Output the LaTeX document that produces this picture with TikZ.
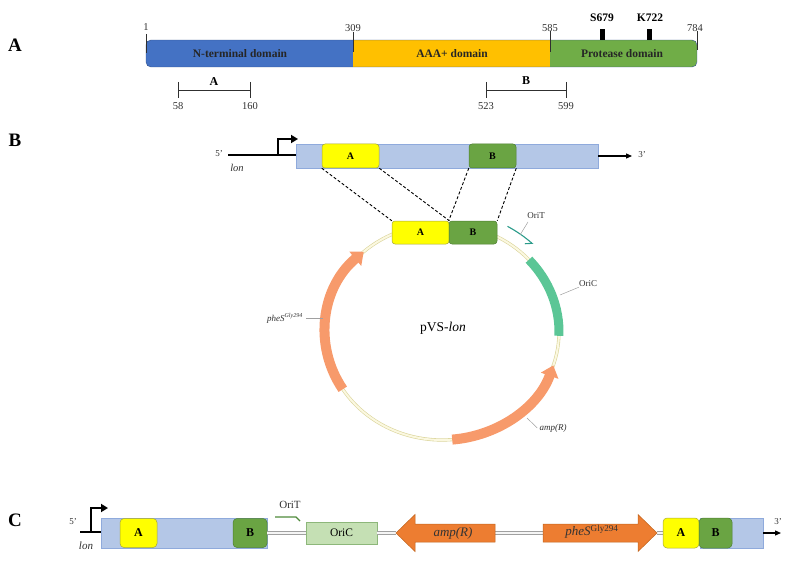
\documentclass[tikz,border=0pt]{standalone}
\usepackage{fontspec}
\setmainfont{Liberation Serif}
\usetikzlibrary{arrows.meta,calc}
\newcommand\fsz[1]{\fontsize{#1}{#1}\selectfont}
\definecolor{domblue}{HTML}{4472C4}
\definecolor{domorange}{HTML}{FFC000}
\definecolor{domgreen}{HTML}{70AD47}
\definecolor{genebar}{HTML}{B4C7E7}
\definecolor{genebarline}{HTML}{8FAADC}
\definecolor{boxyellow}{HTML}{FFFF00}
\definecolor{boxyellowline}{HTML}{A6A638}
\definecolor{boxgreen}{HTML}{6AA443}
\definecolor{boxgreenline}{HTML}{4E7F30}
\definecolor{salmon}{HTML}{F79A6B}
\definecolor{oricarc}{HTML}{5BC696}
\definecolor{oritteal}{HTML}{2A9B8A}
\definecolor{ringin}{HTML}{FBF8E0}
\definecolor{ringout}{HTML}{DAD49A}
\definecolor{ampor}{HTML}{ED7D31}
\definecolor{amporline}{HTML}{C0651F}
\definecolor{oricbox}{HTML}{C5E0B4}
\definecolor{oricboxline}{HTML}{8DB77A}
\definecolor{oritgreen}{HTML}{4E8A3A}
\definecolor{leader}{HTML}{A0A0A0}
\definecolor{inkgrey}{HTML}{303030}
\begin{document}
\begin{tikzpicture}[x=1pt,y=-1pt,
  panel/.style={font=\fsz{19}\bfseries, inner sep=0pt},
  domtxt/.style={font=\fsz{11.5}\bfseries, inner sep=0pt, text=black!85},
  num/.style={font=\fsz{10.5}, inner sep=0pt, text=inkgrey},
  site/.style={font=\fsz{11.5}\bfseries, inner sep=0pt},
  dombox/.style={rectangle, inner sep=0pt, minimum height=27pt},
  tickline/.style={draw=inkgrey, line width=0.8pt},
  rangebar/.style={draw=inkgrey, line width=0.8pt},
  barst/.style={rectangle, inner sep=0pt, fill=genebar, draw=genebarline, line width=0.5pt},
  ybox/.style={rectangle, rounded corners=3pt, inner sep=0pt, fill=boxyellow, draw=boxyellowline, line width=0.5pt, font=\fsz{10}\bfseries},
  gbox/.style={rectangle, rounded corners=3pt, inner sep=0pt, fill=boxgreen, draw=boxgreenline, line width=0.5pt, font=\fsz{10}\bfseries},
  small/.style={font=\fsz{9}, inner sep=0pt, text=inkgrey},
  smallit/.style={font=\fsz{9}\itshape, inner sep=0pt, text=inkgrey},
  leaderline/.style={draw=leader, line width=0.5pt},
  ring/.style={draw=ringout, line width=0.6pt, double=ringin, double distance=2pt},
  dashln/.style={draw=black, line width=0.9pt, dash pattern=on 3pt off 2pt},
  dbl/.style={draw=leader, line width=0.7pt, double=black!4, double distance=2.4pt},
  promoter/.style={draw=black, line width=2pt, -{Triangle[length=7pt,width=8pt]}},
  end3/.style={draw=black, line width=1.2pt, -{Triangle[length=6pt,width=5pt]}}
]
\useasboundingbox (0,0) rectangle (794,564);

%% ---------------- Panel A ----------------
\node[panel] (lblA) at (15,45) {A};
\begin{scope}
  \clip[rounded corners=5pt] (146,40) rectangle (697,67);
  \node[dombox, fill=domblue, minimum width=207pt] (dN) at (249.5,53.5) {};
  \node[dombox, fill=domorange, minimum width=197pt] (dAAA) at (451.5,53.5) {};
  \node[dombox, fill=domgreen, minimum width=147pt] (dP) at (623.5,53.5) {};
\end{scope}
\draw[domblue!70!black, line width=0.4pt, rounded corners=5pt] (146,40) rectangle (697,67);
\node[domtxt] (tN) at (240,54) {N-terminal domain};
\node[domtxt] (tAAA) at (452,54) {AAA+ domain};
\node[domtxt] (tP) at (622,54) {Protease domain};
\draw[tickline] (146,34) -- (146,53);
\draw[tickline] (353,32) -- (353,52);
\draw[tickline] (550,31) -- (550,52);
\draw[tickline] (697,31) -- (697,50);
\node[num] (n1) at (146,27) {1};
\node[num] (n309) at (353,28) {309};
\node[num] (n585) at (550,28) {585};
\node[num] (n784) at (695,28) {784};
\fill[black] (600,29) rectangle (604.5,40.5);
\fill[black] (647,29) rectangle (651.5,40.5);
\node[site] (sS) at (602,18) {S679};
\node[site] (sK) at (650,18) {K722};
% ranges
\draw[rangebar] (178,90) -- (250,90);
\draw[rangebar] (178,82) -- (178,98);
\draw[rangebar] (250,82) -- (250,98);
\node[font=\fsz{12}\bfseries, inner sep=0pt] (rA) at (214,82) {A};
\node[num] (r58) at (178,106) {58};
\node[num] (r160) at (250,106) {160};
\draw[rangebar] (486,90) -- (566,90);
\draw[rangebar] (486,82) -- (486,98);
\draw[rangebar] (566,82) -- (566,98);
\node[font=\fsz{12}\bfseries, inner sep=0pt] (rB) at (526,81) {B};
\node[num] (r523) at (486,106) {523};
\node[num] (r599) at (566,106) {599};

%% ---------------- Panel B ----------------
\node[panel] (lblB) at (15,140) {B};
\node[barst, minimum width=302pt, minimum height=24pt] (gbar) at (447,156) {};
\node[ybox, minimum width=57pt, minimum height=24pt] (bA) at (350.5,156) {A};
\node[gbox, minimum width=47pt, minimum height=24pt] (bB) at (492.5,156) {B};
\coordinate (b5) at (228,155);
\coordinate (bprom) at (278,155);
\coordinate (bpromtop) at (278,139);
\coordinate (bpromend) at (298,139);
\draw[black, line width=1.4pt] (b5) -- (gbar.west |- b5);
\draw[promoter] (bprom) -- (bpromtop) -- (bpromend);
\coordinate (b3) at (632,156);
\draw[end3] (gbar.east) -- (b3);
\node[small] (t5B) at (219,154) {5'};
\node[font=\fsz{10.5}\itshape, inner sep=0pt, text=inkgrey] (tlonB) at (237,168) {lon};
\node[small] (t3B) at (642,155) {3'};

% plasmid ring
\coordinate (pc) at (442,332);
\draw[ring] (pc) ellipse [x radius=117, y radius=108];
% pheS arrow
\draw[salmon, line width=10pt, -{Triangle[length=11pt,width=18pt]}]
  (pc) ++(148:117 and 108) arc[start angle=148, end angle=228, x radius=117, y radius=108];
% amp(R) arrow
\draw[salmon, line width=10pt, -{Triangle[length=11pt,width=18pt]}]
  (pc) ++(85:117 and 108) arc[start angle=85, end angle=18, x radius=117, y radius=108];
% OriC arc
\draw[oricarc, line width=9pt]
  (pc) ++(-42:117 and 108) arc[start angle=-42, end angle=2, x radius=117, y radius=108];
% OriT arc
\draw[oritteal, line width=1.1pt, -{Straight Barb[right,length=5pt,width=10pt]}]
  (pc) ++(-60:131 and 122) arc[start angle=-60, end angle=-46, x radius=131, y radius=122];

\node[ybox, minimum width=57pt, minimum height=23pt] (pA) at (420.5,232.5) {A};
\node[gbox, minimum width=48pt, minimum height=23pt] (pB) at (473,232.5) {B};
\draw[dashln] (bA.south west) -- (pA.north west);
\draw[dashln] (bA.south east) -- (pA.north east);
\draw[dashln] (bB.south west) -- (pB.north west);
\draw[dashln] (bB.south east) -- (pB.north east);

\node[font=\fsz{13.5}, inner sep=0pt] (pname) at (443,328) {pVS-\textit{lon}};
\node[small] (lOriT) at (536,216) {OriT};
\coordinate (aOriT) at (520,235);
\draw[leaderline] (528,222) -- (aOriT);
\node[small] (lOriC) at (588,284) {OriC};
\coordinate (aOriC) at (560,295);
\draw[leaderline] (lOriC.south west) -- (aOriC);
\node[smallit, anchor=east] (lphe) at (303,318) {pheS\textsuperscript{Gly294}};
\coordinate (aphe) at (323,318);
\draw[leaderline] (lphe.east) ++(3,0) -- (aphe);
\node[smallit] (lamp) at (553,428) {amp(R)};
\coordinate (aamp) at (527,418);
\draw[leaderline] (lamp.west) ++(-2,0) -- (aamp);

%% ---------------- Panel C ----------------
\node[panel] (lblC) at (15,520) {C};
\coordinate (ampTip) at (396,533);
\coordinate (ampTail) at (495,533);
\coordinate (pheTail) at (543,533);
\coordinate (pheTip) at (657,533);
\node[barst, minimum width=166pt, minimum height=30pt] (cbar) at (184,533) {};
\node[barst, minimum width=63pt, minimum height=30pt] (cbar2) at (731.5,533) {};
\node[ybox, rounded corners=4pt, minimum width=37pt, minimum height=29pt, font=\fsz{12}\bfseries] (cA) at (138.5,533) {A};
\node[gbox, rounded corners=4pt, minimum width=34pt, minimum height=29pt, font=\fsz{12}\bfseries] (cB) at (250,533) {B};
\node[rectangle, inner sep=0pt, fill=oricbox, draw=oricboxline, line width=0.6pt, minimum width=71pt, minimum height=22pt, font=\fsz{11.5}] (cOriC) at (341.5,533) {OriC};
\draw[dbl] (cB.east) -- (cOriC.west);
\draw[dbl] (cOriC.east) -- (ampTip);
\draw[dbl] (ampTail) -- (pheTail);
\draw[dbl] (pheTip) -- (663,533);
\node[ybox, rounded corners=4pt, minimum width=36pt, minimum height=30pt, font=\fsz{12}\bfseries] (cA2) at (681,533) {A};
\node[gbox, rounded corners=4pt, minimum width=33pt, minimum height=30pt, font=\fsz{12}\bfseries] (cB2) at (715.5,533) {B};
% amp(R) block arrow (pointing left)
\filldraw[fill=ampor, draw=amporline, line width=0.5pt]
  (ampTip) -- (415,514.5) -- (415,524) -- (ampTail |- 0,524) -- (ampTail |- 0,542) -- (415,542) -- (415,551.5) -- cycle;
\node[font=\fsz{13}\itshape, inner sep=0pt, text=black!80] (tamp) at (453,533) {amp(R)};
% pheS block arrow (pointing right)
\filldraw[fill=ampor, draw=amporline, line width=0.5pt]
  (pheTail |- 0,524) -- (638,524) -- (638,514.5) -- (pheTip) -- (638,551.5) -- (638,542) -- (pheTail |- 0,542) -- cycle;
\node[font=\fsz{13}, inner sep=0pt, text=black!80] (tphe) at (592,532) {\textit{pheS}\textsuperscript{Gly294}};
% promoter and ends
\coordinate (c5) at (80,532);
\coordinate (cprom) at (91,532);
\coordinate (cpromtop) at (91,508);
\coordinate (cpromend) at (108,508);
\draw[black, line width=2.2pt] (c5) -- (cbar.west |- c5);
\draw[promoter, line width=2.4pt] (cprom) -- (cpromtop) -- (cpromend);
\node[small] (t5C) at (73,522) {5'};
\node[font=\fsz{11}\itshape, inner sep=0pt, text=inkgrey] (tlonC) at (86,546) {lon};
\coordinate (c3) at (781,533);
\draw[end3] (cbar2.east) -- (c3);
\node[small] (t3C) at (778,522) {3'};
% OriT in C
\node[font=\fsz{11}, inner sep=0pt, text=inkgrey] (tOriTC) at (290,505) {OriT};
\coordinate (ot1) at (275,517);
\coordinate (ot2) at (296,517);
\coordinate (ot3) at (300,521);
\draw[oritgreen, line width=1.1pt] (ot1) -- (ot2) -- (ot3);
\end{tikzpicture}
\end{document}
